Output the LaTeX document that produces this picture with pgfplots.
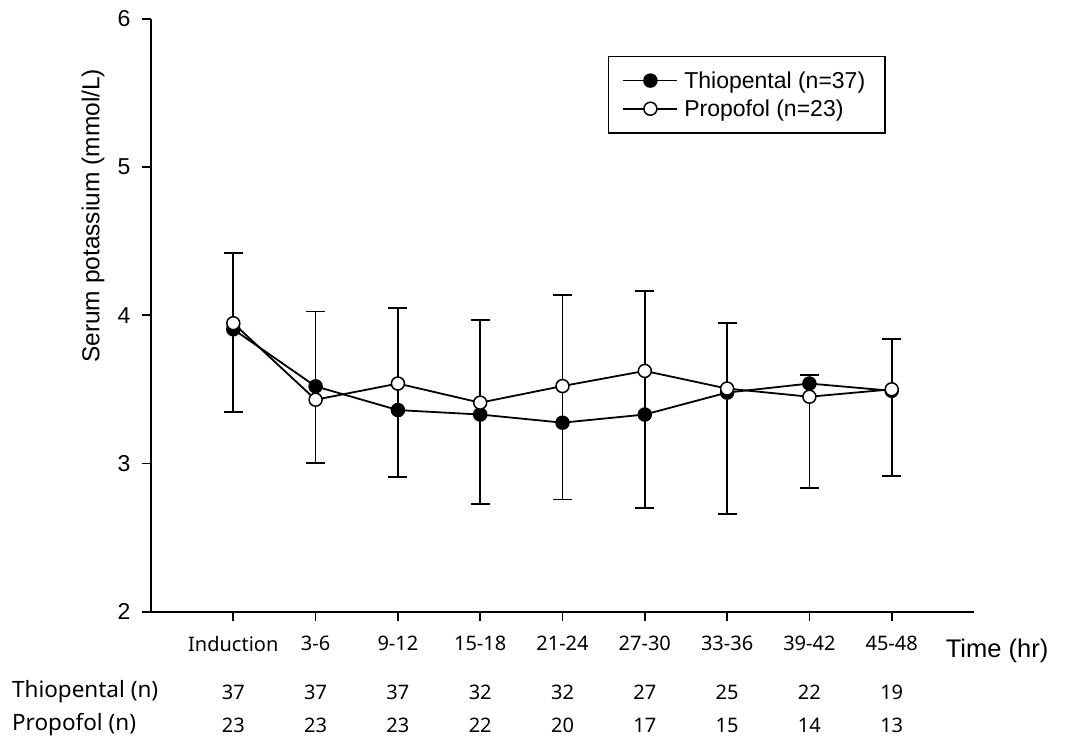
\documentclass[border=0pt]{standalone}
\usepackage{fontspec}
\setmainfont{Liberation Sans}
\newfontfamily\noto{Noto Sans}
\usepackage{pgfplots}
\pgfplotsset{compat=1.18}
\newcommand\fa{\fontsize{23bp}{27bp}\selectfont}
\newcommand\fyl{\fontsize{24.5bp}{28bp}\selectfont}
\newcommand\ft{\fontsize{25.5bp}{29bp}\selectfont}
\newcommand\fn{\noto\fontsize{20bp}{24bp}\selectfont}
\newcommand\fnb{\noto\fontsize{22.5bp}{26bp}\selectfont}
\begin{document}
\begin{tikzpicture}
\begin{axis}[
  at={(0,0)}, anchor=south west,
  scale only axis, width=823bp, height=593bp,
  xmin=-1, xmax=9, ymin=2, ymax=6,
  axis x line*=bottom, axis y line*=left,
  axis line style={line width=1.8bp,-},
  xtick={0,...,8},
  xticklabels={Induction,3-6,9-12,15-18,21-24,27-30,33-36,39-42,45-48},
  ytick={2,3,4,5,6},
  tick align=outside, major tick length=9bp,
  tick style={line width=1.8bp,black},
  /pgf/number format/assume math mode=true,
  x tick label style={font=\fn, yshift=-12bp},
  y tick label style={font=\fa, xshift=-8bp},
  clip=false,
  legend style={at={(rel axis cs:0.555,0.9375)}, anchor=north west,
    draw=black, line width=1.5bp, font=\fa, inner xsep=14bp, inner ysep=13bp,
    row sep=6bp, nodes={inner xsep=6bp}},
  legend cell align=left,
  legend image code/.code={
    \draw[#1, mark repeat=2, mark phase=2] plot coordinates {(0bp,0bp) (27bp,0bp) (54bp,0bp)};
  },
]
% error bars first
\addplot[forget plot, draw=none, line width=1.8bp, error bars/.cd, y dir=plus, y explicit,
  error mark options={rotate=90, line width=1.8bp, mark size=9.5bp, black},
  error bar style={line width=1.8bp, black}]
  coordinates {
  (0,3.905) +- (0,0.514)
  (1,3.52) +- (0,0.505)
  (2,3.36) +- (0,0.687)
  (3,3.33) +- (0,0.636)
  (4,3.275) +- (0,0.862)
  (5,3.33) +- (0,0.834)
  (6,3.478) +- (0,0.470)
  (7,3.539) +- (0,0.056)
  (8,3.49) +- (0,0.348)
  };
\addplot[forget plot, draw=none, line width=1.8bp, error bars/.cd, y dir=minus, y explicit,
  error mark options={rotate=90, line width=1.8bp, mark size=9.5bp, black},
  error bar style={line width=1.8bp, black}]
  coordinates {
  (0,3.946) +- (0,0.601)
  (1,3.43) +- (0,0.425)
  (2,3.539) +- (0,0.632)
  (3,3.41) +- (0,0.682)
  (4,3.522) +- (0,0.765)
  (5,3.624) +- (0,0.926)
  (6,3.505) +- (0,0.845)
  (7,3.45) +- (0,0.614)
  (8,3.50) +- (0,0.583)
  };
\addplot[black, line width=1.8bp, mark=*, mark size=6.5bp, mark options={fill=black, line width=1.5bp}]
  coordinates {(0,3.905) (1,3.52) (2,3.36) (3,3.33) (4,3.275) (5,3.33) (6,3.478) (7,3.539) (8,3.49)};
\addlegendentry{Thiopental (n=37)}
\addplot[black, line width=1.8bp, mark=*, mark size=6.5bp, mark options={fill=white, line width=1.5bp}]
  coordinates {(0,3.946) (1,3.43) (2,3.539) (3,3.41) (4,3.522) (5,3.624) (6,3.505) (7,3.45) (8,3.50)};
\addlegendentry{Propofol (n=23)}

\node[font=\fyl, rotate=90, anchor=center] at (axis cs:-1.703,4.67) {Serum potassium (mmol/L)};
\node[font=\ft, anchor=west, inner sep=0pt] at (axis cs:8.655,1.735) {Time (hr)};
\node[font=\fnb, anchor=west, inner sep=0pt] at (axis cs:-2.69,1.459) {Thiopental (n)};
\node[font=\fnb, anchor=west, inner sep=0pt] at (axis cs:-2.69,1.236) {Propofol (n)};
\node[font=\fn] at (axis cs:0,1.459) {37};
\node[font=\fn] at (axis cs:1,1.459) {37};
\node[font=\fn] at (axis cs:2,1.459) {37};
\node[font=\fn] at (axis cs:3,1.459) {32};
\node[font=\fn] at (axis cs:4,1.459) {32};
\node[font=\fn] at (axis cs:5,1.459) {27};
\node[font=\fn] at (axis cs:6,1.459) {25};
\node[font=\fn] at (axis cs:7,1.459) {22};
\node[font=\fn] at (axis cs:8,1.459) {19};
\node[font=\fn] at (axis cs:0,1.236) {23};
\node[font=\fn] at (axis cs:1,1.236) {23};
\node[font=\fn] at (axis cs:2,1.236) {23};
\node[font=\fn] at (axis cs:3,1.236) {22};
\node[font=\fn] at (axis cs:4,1.236) {20};
\node[font=\fn] at (axis cs:5,1.236) {17};
\node[font=\fn] at (axis cs:6,1.236) {15};
\node[font=\fn] at (axis cs:7,1.236) {14};
\node[font=\fn] at (axis cs:8,1.236) {13};
\end{axis}
\pgfresetboundingbox
\path (-151bp,-137.3bp) rectangle (922bp,611.7bp);
\end{tikzpicture}
\end{document}
